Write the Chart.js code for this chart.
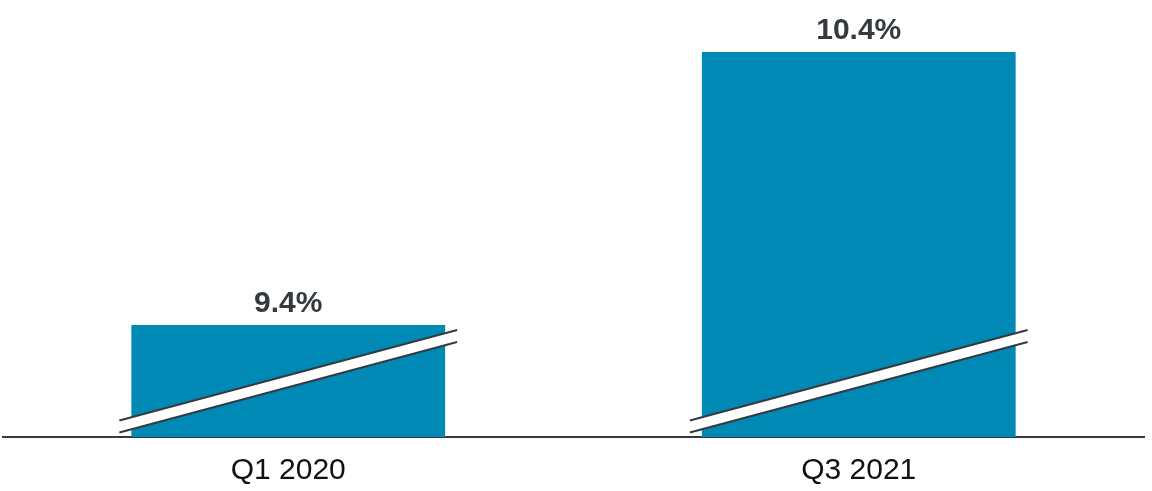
<!DOCTYPE html>
<html>
<head>
<meta charset="utf-8">
<script src="https://cdn.jsdelivr.net/npm/chart.js@4/dist/chart.umd.min.js"></script>
<style>
  html, body { margin: 0; padding: 0; background: #fff; }
  #wrap { width: 1152px; height: 491px; }
</style>
</head>
<body>
<div id="wrap"><canvas id="rate"></canvas></div>
<script>
const categories = ["Q1 2020", "Q3 2021"];
const rates = [9.4, 10.4];
const axisMin = 8.99;
const axisMax = 10.4;

const BAR_COLOR = "#0089b4";
const DARK = "#343a3f";

// value labels above bars
const valueLabels = {
  id: "valueLabels",
  afterDatasetsDraw(chart) {
    const { ctx } = chart;
    const meta = chart.getDatasetMeta(0);
    ctx.save();
    ctx.font = "bold 30px 'Liberation Sans', Arial, sans-serif";
    ctx.fillStyle = DARK;
    ctx.textAlign = "center";
    ctx.textBaseline = "alphabetic";
    meta.data.forEach((bar, i) => {
      ctx.fillText(rates[i].toFixed(1) + "%", bar.x, bar.y - 13);
    });
    ctx.restore();
  }
};

// axis-break slash across each bar
const axisBreak = {
  id: "axisBreak",
  afterDatasetsDraw(chart) {
    const { ctx } = chart;
    const meta = chart.getDatasetMeta(0);
    const base = chart.scales.y.bottom;
    ctx.save();
    meta.data.forEach(bar => {
      const p = bar.getProps(["x", "width"], true);
      const x0 = p.x - p.width / 2 - 12;
      const x1 = p.x + p.width / 2 + 12;
      const yl = base - 16.5;
      const yr = base - 107;
      const gap = 12;
      ctx.beginPath();
      ctx.moveTo(x0, yl);
      ctx.lineTo(x1, yr);
      ctx.lineTo(x1, yr + gap);
      ctx.lineTo(x0, yl + gap);
      ctx.closePath();
      ctx.fillStyle = "#fff";
      ctx.fill();
      ctx.strokeStyle = DARK;
      ctx.lineWidth = 2;
      ctx.beginPath();
      ctx.moveTo(x0, yl);
      ctx.lineTo(x1, yr);
      ctx.moveTo(x0, yl + gap);
      ctx.lineTo(x1, yr + gap);
      ctx.stroke();
    });
    ctx.restore();
  }
};

new Chart(document.getElementById("rate").getContext("2d"), {
  type: "bar",
  data: {
    labels: categories,
    datasets: [
      {
        data: rates,
        backgroundColor: BAR_COLOR,
        borderWidth: 0,
        barPercentage: 0.55,
        categoryPercentage: 1,
      },
    ],
  },
  options: {
    responsive: true,
    maintainAspectRatio: false,
    animation: false,
    layout: {
      padding: { top: 52, left: 3, right: 8, bottom: -6 },
    },
    plugins: {
      legend: { display: false },
      tooltip: { enabled: false },
    },
    scales: {
      x: {
        grid: { display: false },
        border: { color: DARK, width: 2 },
        ticks: {
          color: "#111",
          padding: 8,
          font: { family: "'Liberation Sans', Arial, sans-serif", size: 30 },
        },
      },
      y: {
        display: false,
        min: axisMin,
        max: axisMax,
      },
    },
  },
  plugins: [axisBreak, valueLabels],
});
</script>
</body>
</html>
